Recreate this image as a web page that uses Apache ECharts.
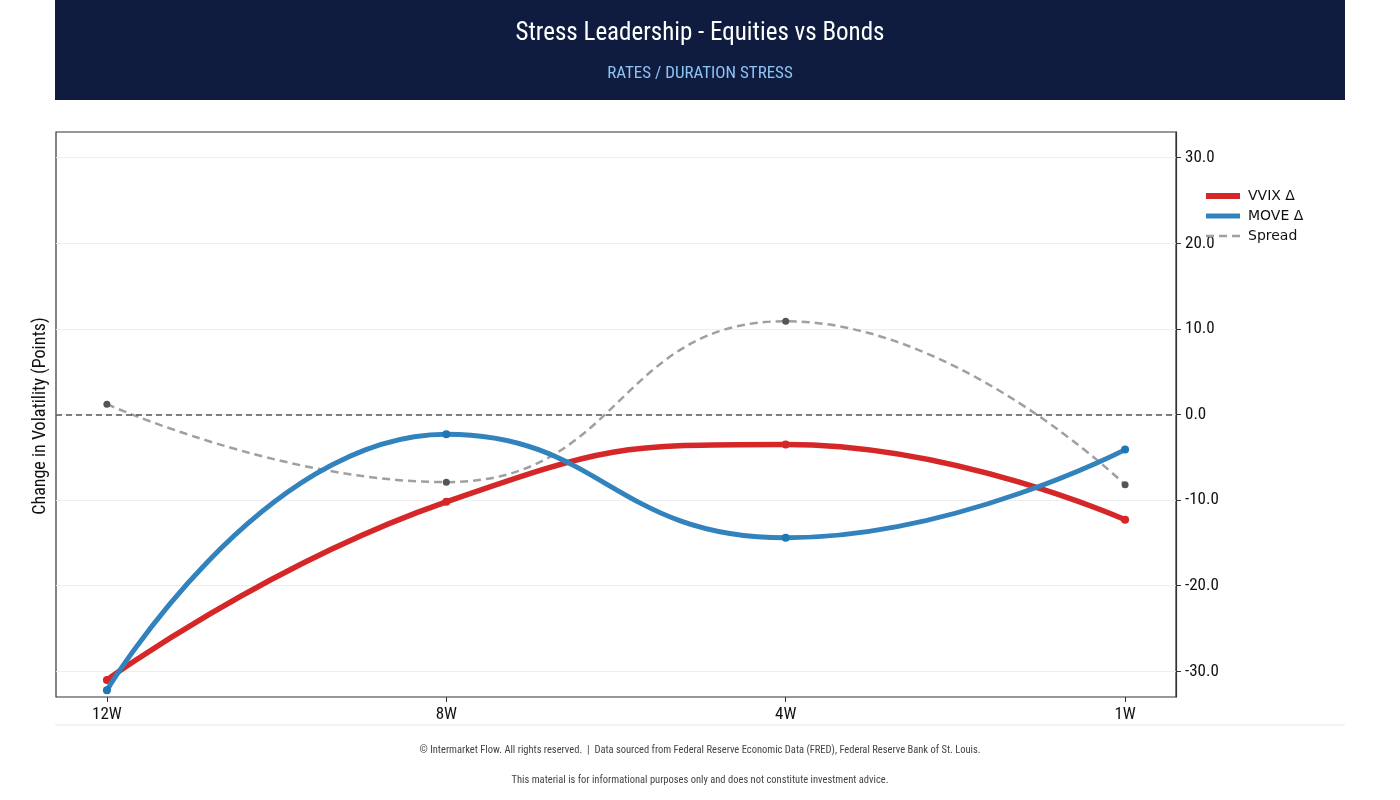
<!DOCTYPE html>
<html>
<head>
<meta charset="utf-8">
<script src="https://cdn.jsdelivr.net/npm/echarts@6/dist/echarts.min.js"></script>
<style>
    html, body { margin: 0; padding: 0; background: #fff; }
    #chart { width: 1400px; height: 800px; }
</style>
</head>
<body>
<div id="chart"></div>
<script>
const condensed = "'Roboto Condensed', 'Liberation Sans Narrow', 'DejaVu Sans Condensed', Roboto, sans-serif";

const periods = ["12W", "8W", "4W", "1W"];
const vvix = [-31.0, -10.2, -3.5, -12.3];
const move = [-32.2, -2.3, -14.4, -4.1];
const spread = [1.2, -7.9, 10.9, -8.2];
const yTicks = [-30, -20, -10, 0, 10, 20, 30];

function pairs(values) {
    return values.map((v, i) => [i, v]);
}

const chart = echarts.init(document.getElementById("chart"));

const option = {
    animation: false,
    backgroundColor: "#fff",
    graphic: [
        {
            type: "rect",
            shape: { x: 55, y: 0, width: 1290, height: 100 },
            style: { fill: "#0f1c3f" }
        },
        {
            type: "text",
            x: 700, y: 34,
            style: {
                text: "Stress Leadership - Equities vs Bonds",
                fill: "#ffffff",
                font: "25px " + condensed,
                textAlign: "center",
                textVerticalAlign: "middle"
            }
        },
        {
            type: "text",
            x: 700, y: 74,
            style: {
                text: "RATES / DURATION STRESS",
                fill: "#8cc4f2",
                font: "17px " + condensed,
                textAlign: "center",
                textVerticalAlign: "middle"
            }
        },
        {
            type: "text",
            x: 40, y: 416,
            rotation: Math.PI / 2,
            style: {
                text: "Change in Volatility (Points)",
                fill: "#111",
                font: "18px " + condensed,
                textAlign: "center",
                textVerticalAlign: "middle"
            }
        },
        {
            type: "line",
            shape: { x1: 55, y1: 725, x2: 1345, y2: 725 },
            style: { stroke: "#e6e6e6", lineWidth: 1 }
        },
        {
            type: "text",
            x: 700, y: 750,
            style: {
                text: "© Intermarket Flow. All rights reserved.  |  Data sourced from Federal Reserve Economic Data (FRED), Federal Reserve Bank of St. Louis.",
                fill: "#444",
                font: "10.5px " + condensed,
                textAlign: "center",
                textVerticalAlign: "middle"
            }
        },
        {
            type: "text",
            x: 700, y: 780,
            style: {
                text: "This material is for informational purposes only and does not constitute investment advice.",
                fill: "#444",
                font: "10.5px " + condensed,
                textAlign: "center",
                textVerticalAlign: "middle"
            }
        }
    ],
    grid: {
        left: 56,
        right: 224,
        top: 132,
        bottom: 103,
        show: true,
        borderColor: "#333",
        borderWidth: 1.2
    },
    legend: {
        orient: "vertical",
        left: 1198,
        top: 184,
        padding: 5,
        itemWidth: 34,
        itemHeight: 14,
        itemGap: 6,
        itemStyle: { opacity: 0 },
        textStyle: {
            fontFamily: "'DejaVu Sans', sans-serif",
            fontSize: 14,
            color: "#111",
            padding: [0, 0, 0, 3]
        },
        data: [
            { name: "VVIX Δ", lineStyle: { width: 6 } },
            { name: "MOVE Δ", lineStyle: { width: 5 } },
            { name: "Spread", lineStyle: { width: 2.5 } }
        ]
    },
    xAxis: {
        type: "value",
        min: -0.15,
        max: 3.15,
        axisLine: { show: false, onZero: false },
        splitLine: { show: false },
        axisTick: {
            show: true,
            customValues: [0, 1, 2, 3],
            length: 5,
            lineStyle: { color: "#333" }
        },
        axisLabel: {
            customValues: [0, 1, 2, 3],
            formatter: v => periods[Math.round(v)] || "",
            fontFamily: condensed,
            fontSize: 17,
            color: "#111",
            margin: 9
        }
    },
    yAxis: {
        type: "value",
        position: "right",
        min: -33,
        max: 33,
        axisLine: { show: true, onZero: false, lineStyle: { color: "#333", width: 1.2 } },
        axisTick: {
            show: true,
            customValues: yTicks,
            length: 5,
            lineStyle: { color: "#333" }
        },
        axisLabel: {
            customValues: yTicks,
            formatter: v => v.toFixed(1),
            fontFamily: condensed,
            fontSize: 17,
            color: "#111",
            margin: 9
        },
        splitLine: {
            show: true,
            lineStyle: { color: "#eeeeee", width: 1 }
        }
    },
    series: [
        {
            name: "VVIX Δ",
            type: "line",
            data: pairs(vvix),
            smooth: 0.5,
            symbol: "circle",
            symbolSize: 8,
            lineStyle: { color: "#d62728", width: 5.5 },
            itemStyle: { color: "#d62728" },
            z: 3
        },
        {
            name: "MOVE Δ",
            type: "line",
            data: pairs(move),
            smooth: 0.5,
            symbol: "circle",
            symbolSize: 8,
            lineStyle: { color: "#3182bd", width: 5 },
            itemStyle: { color: "#1f77b4" },
            z: 4
        },
        {
            name: "Spread",
            type: "line",
            data: pairs(spread),
            smooth: 0.5,
            symbol: "circle",
            symbolSize: 7,
            lineStyle: { color: "#a0a0a0", width: 2.5, type: [8, 5] },
            itemStyle: { color: "#555555" },
            z: 2,
            markLine: {
                silent: true,
                symbol: "none",
                label: { show: false },
                lineStyle: { color: "#555", width: 1.5, type: [6, 4] },
                data: [{ yAxis: 0 }]
            }
        }
    ]
};

chart.setOption(option);
</script>
</body>
</html>
